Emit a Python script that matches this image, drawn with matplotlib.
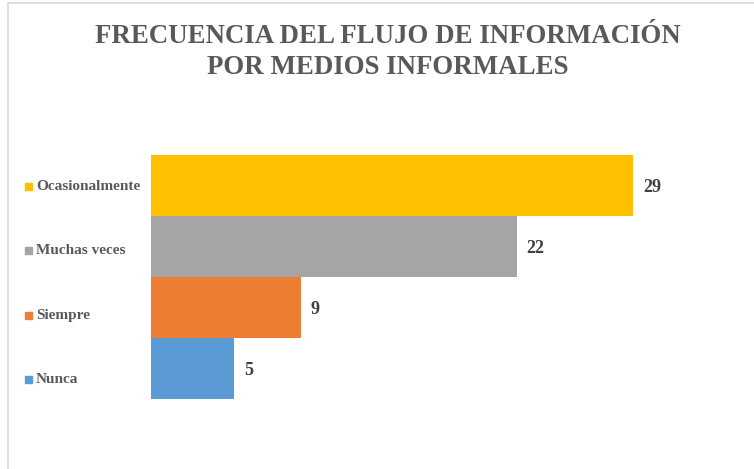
import matplotlib.pyplot as plt
from matplotlib.patches import Rectangle

categories = ['Nunca', 'Siempre', 'Muchas veces', 'Ocasionalmente']
values = [5, 9, 22, 29]
colors = ['#5B9BD5', '#ED7D31', '#A5A5A5', '#FFC000']
title = 'FRECUENCIA DEL FLUJO DE INFORMACIÓN\nPOR MEDIOS INFORMALES'

plt.rcParams['font.family'] = ['Liberation Serif', 'DejaVu Serif']

W, H = 754, 469
fig = plt.figure(figsize=(W / 100, H / 100), dpi=100)

# chart frame (only left/top edges visible)
fig.patches.append(Rectangle((8 / W, -0.1), 1.2, 1.1 - 3 / H, transform=fig.transFigure,
                             fill=False, edgecolor='#D9D9D9', linewidth=1.2))

ax = fig.add_axes([151 / W, 70 / H, 548.5 / W, 244 / H])
ax.barh(range(len(values)), values, height=1.0, color=colors)
ax.set_xlim(0, 33)
ax.set_ylim(-0.5, len(values) - 0.5)
ax.axis('off')

for i, v in enumerate(values):
    ax.text(v + 0.6, i - 0.03, str(v), va='center', ha='left', fontsize=13,
            fontweight='bold', color='#404040')

fig.text(388 / W, 1 - 52 / H, title, ha='center', va='center', fontsize=19.4,
         fontweight='bold', color='#595959', linespacing=1.3)

# legend entries on the left
leg_y = [379, 315, 250, 186]
for cat, col, y in zip(categories, colors, leg_y):
    fig.patches.append(Rectangle((25 / W, 1 - (y + 4) / H), 7 / W, 7 / H,
                                 transform=fig.transFigure, color=col))
    fig.text(36 / W, 1 - y / H, cat, ha='left', va='center', fontsize=11,
             fontweight='bold', color='#595959')

fig.savefig('out.png', dpi=100)
